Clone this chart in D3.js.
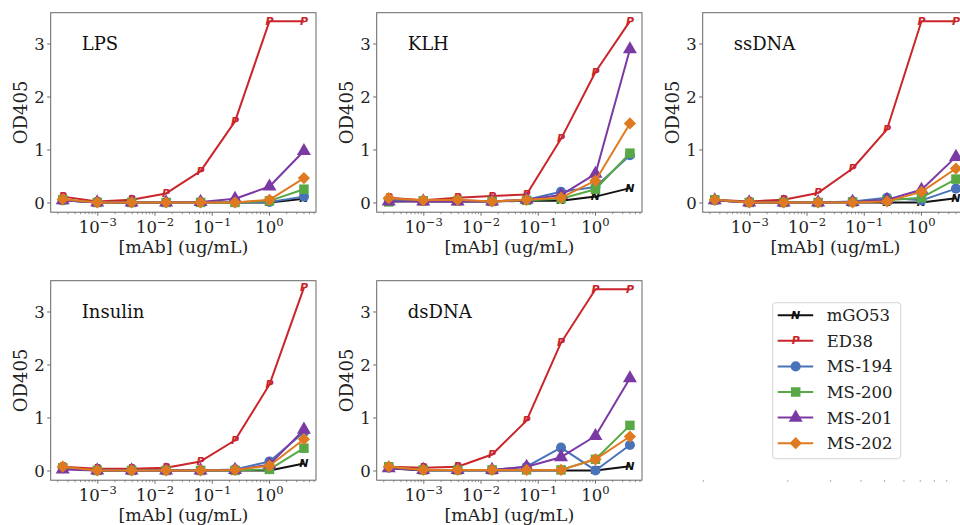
<!DOCTYPE html>
<html>
<head>
<meta charset="utf-8">
<script src="https://cdn.jsdelivr.net/npm/d3@7"></script>
<style>
  body { margin: 0; background: #fff; }
  svg { display: block; font-family: "DejaVu Serif", serif; }
</style>
</head>
<body>
<svg id="chart" width="960" height="525"></svg>
<script>
// 4-fold dilution series of antibody (ug/mL)
const concentrations = [0.000244, 0.000977, 0.0039, 0.0156, 0.0625, 0.25, 1, 4];
const antigens = ["LPS", "KLH", "ssDNA", "Insulin", "dsDNA"];
const seriesNames = ["mGO53", "ED38", "MS-194", "MS-200", "MS-201", "MS-202"];

// OD405 per antigen, rows in seriesNames order
const lpsValues = [
  [0.05, 0.01, 0.01, 0.01, 0.01, 0.01, 0.01, 0.08],
  [0.12, 0.03, 0.06, 0.18, 0.60, 1.54, 3.43, 3.43],
  [0.05, 0.01, 0.01, 0.01, 0.01, 0.01, 0.02, 0.12],
  [0.06, 0.01, 0.01, 0.01, 0.01, 0.01, 0.04, 0.26],
  [0.05, 0.01, 0.01, 0.01, 0.02, 0.08, 0.31, 0.98],
  [0.07, 0.01, 0.01, 0.01, 0.01, 0.01, 0.06, 0.47]
];
const klhValues = [
  [0.04, 0.03, 0.03, 0.03, 0.04, 0.04, 0.12, 0.28],
  [0.10, 0.05, 0.10, 0.13, 0.16, 1.21, 2.47, 3.43],
  [0.06, 0.04, 0.05, 0.03, 0.06, 0.21, 0.30, 0.90],
  [0.02, 0.04, 0.04, 0.03, 0.05, 0.08, 0.26, 0.94],
  [0.03, 0.03, 0.03, 0.03, 0.06, 0.15, 0.55, 2.90],
  [0.09, 0.05, 0.06, 0.03, 0.06, 0.10, 0.42, 1.50]
];
const ssdnaValues = [
  [0.05, 0.01, 0.01, 0.01, 0.01, 0.01, 0.01, 0.09],
  [0.06, 0.03, 0.06, 0.19, 0.65, 1.39, 3.43, 3.43],
  [0.05, 0.01, 0.01, 0.01, 0.03, 0.10, 0.05, 0.27],
  [0.06, 0.01, 0.01, 0.01, 0.02, 0.05, 0.10, 0.45],
  [0.05, 0.01, 0.01, 0.01, 0.02, 0.06, 0.25, 0.87],
  [0.06, 0.01, 0.01, 0.01, 0.01, 0.03, 0.21, 0.65]
];
const insulinValues = [
  [0.05, 0.01, 0.01, 0.01, 0.01, 0.01, 0.01, 0.14],
  [0.08, 0.04, 0.04, 0.06, 0.18, 0.58, 1.63, 3.46],
  [0.05, 0.01, 0.01, 0.01, 0.01, 0.03, 0.18, 0.73],
  [0.06, 0.01, 0.01, 0.01, 0.01, 0.01, 0.03, 0.43],
  [0.03, 0.01, 0.01, 0.01, 0.01, 0.02, 0.12, 0.78],
  [0.08, 0.01, 0.01, 0.01, 0.01, 0.02, 0.10, 0.60]
];
const dsdnaValues = [
  [0.05, 0.01, 0.01, 0.01, 0.01, 0.01, 0.01, 0.09],
  [0.08, 0.06, 0.08, 0.31, 0.95, 2.42, 3.43, 3.43],
  [0.06, 0.02, 0.02, 0.02, 0.08, 0.44, 0.01, 0.49],
  [0.08, 0.02, 0.02, 0.02, 0.02, 0.02, 0.22, 0.86],
  [0.05, 0.02, 0.02, 0.02, 0.08, 0.26, 0.66, 1.75],
  [0.08, 0.02, 0.02, 0.02, 0.02, 0.02, 0.22, 0.65]
];
const panelValues = [lpsValues, klhValues, ssdnaValues, insulinValues, dsdnaValues];

const yTicks = [0, 1, 2, 3];
const xTicks = [1e-3, 1e-2, 1e-1, 1e0];

const colors = ["#111111", "#c9252b", "#4a72b8", "#58a845", "#7b3aa3", "#e07a20"];
const markers = ["N", "P", "circle", "square", "triangle", "diamond"];

const svg = d3.select("#chart");
const colLeft = [50.7, 376.7, 702.7];
const rowTop = [12.7, 280.7];
const pw = 265.3, ph = 199.5;

const x = d3.scaleLog().domain([Math.pow(10, -3.823), Math.pow(10, 0.813)]).range([0, pw]);
const y = d3.scaleLinear().domain([-0.174, 3.59]).range([ph, 0]);

// draw one marker into a group at (0,0); N and P are letter glyph markers
function drawMarker(g, type, color) {
  if (type === "N" || type === "P") {
    g.append("text")
      .attr("text-anchor", "middle")
      .attr("dominant-baseline", "central")
      .style("font-family", "DejaVu Sans")
      .style("font-style", "italic")
      .style("font-weight", "bold")
      .style("font-size", "11px")
      .attr("fill", color)
      .text(type);
    return;
  }
  let sym, size, rot = 0;
  if (type === "circle") { sym = d3.symbolCircle; size = 80; }
  if (type === "square") { sym = d3.symbolSquare; size = 90; }
  if (type === "triangle") { sym = d3.symbolTriangle; size = 85; }
  if (type === "diamond") { sym = d3.symbolSquare; size = 75; rot = 45; }
  g.append("path")
    .attr("d", d3.symbol().type(sym).size(size)())
    .attr("transform", rot ? `rotate(${rot})` : null)
    .attr("fill", color);
}

antigens.forEach((name, idx) => {
  const left = colLeft[idx % 3], top = rowTop[Math.floor(idx / 3)];
  const g = svg.append("g").attr("transform", `translate(${left},${top})`);

  // minor + major x ticks
  const minor = [];
  for (let e = -4; e <= 0; e++) {
    for (let k = 2; k <= 9; k++) {
      const v = k * Math.pow(10, e);
      if (v >= x.domain()[0] && v <= x.domain()[1]) minor.push(v);
    }
  }
  g.selectAll(".minor").data(minor).enter().append("line")
    .attr("x1", d => x(d)).attr("x2", d => x(d))
    .attr("y1", ph).attr("y2", ph + 2)
    .attr("stroke", "#444").attr("stroke-width", 0.6);
  g.selectAll(".major").data(xTicks).enter().append("line")
    .attr("x1", d => x(d)).attr("x2", d => x(d))
    .attr("y1", ph).attr("y2", ph + 3.5)
    .attr("stroke", "#444").attr("stroke-width", 0.8);

  const xl = g.selectAll(".xl").data(xTicks).enter().append("text")
    .attr("x", d => x(d))
    .attr("y", ph + 20.5)
    .attr("text-anchor", "middle")
    .style("font-size", "16.5px")
    .attr("fill", "#222");
  xl.append("tspan").text("10");
  xl.append("tspan")
    .attr("dy", -7)
    .style("font-size", "11.5px")
    .text(d => { const e = Math.round(Math.log10(d)); return e < 0 ? "\u2212" + (-e) : String(e); });

  // y ticks
  g.selectAll(".ytick").data(yTicks).enter().append("line")
    .attr("x1", -3.5).attr("x2", 0)
    .attr("y1", d => y(d)).attr("y2", d => y(d))
    .attr("stroke", "#444").attr("stroke-width", 0.8);
  g.selectAll(".yl").data(yTicks).enter().append("text")
    .attr("x", -6)
    .attr("y", d => y(d))
    .attr("dy", "0.36em")
    .attr("text-anchor", "end")
    .style("font-size", "16.5px")
    .attr("fill", "#222")
    .text(d => d);

  // axis labels
  g.append("text")
    .attr("transform", `translate(-30,${ph / 2}) rotate(-90)`)
    .attr("text-anchor", "middle")
    .attr("dy", "0.36em")
    .style("font-size", "18px")
    .attr("fill", "#222")
    .text("OD405");
  g.append("text")
    .attr("x", pw / 2)
    .attr("y", ph + 40.5)
    .attr("text-anchor", "middle")
    .style("font-size", "17.5px")
    .attr("fill", "#222")
    .text("[mAb] (ug/mL)");

  // series
  const line = d3.line().x(d => x(d[0])).y(d => y(d[1]));
  panelValues[idx].forEach((vals, s) => {
    const pts = concentrations.map((c, i) => [c, vals[i]]);
    const sg = g.append("g");
    sg.append("path")
      .datum(pts)
      .attr("d", line)
      .attr("fill", "none")
      .attr("stroke", colors[s])
      .attr("stroke-width", 2)
      .attr("stroke-linejoin", "round");
    pts.forEach(p => {
      const mg = sg.append("g").attr("transform", `translate(${x(p[0])},${y(p[1])})`);
      drawMarker(mg, markers[s], colors[s]);
    });
  });

  // frame
  g.append("rect")
    .attr("width", pw).attr("height", ph)
    .attr("fill", "none")
    .attr("stroke", "#666").attr("stroke-width", 1);

  // panel title
  g.append("text")
    .attr("x", 31)
    .attr("y", 37.5)
    .style("font-size", "18px")
    .attr("fill", "#111")
    .text(name);
});

// leftover minor ticks of the empty sixth axes
const xEmpty = d3.scaleLog().domain([0.894, 11.0]).range([702.7, 968]);
const emptyMinor = [0.9, 2, 3, 4, 5, 6, 7, 8, 9];
svg.selectAll(".emptyTick").data(emptyMinor).enter().append("line")
  .attr("x1", d => xEmpty(d)).attr("x2", d => xEmpty(d))
  .attr("y1", 480).attr("y2", 482)
  .attr("stroke", "#999").attr("stroke-width", 0.8);

// legend
const legend = svg.append("g").attr("transform", "translate(772.7,302.7)");
legend.append("rect")
  .attr("width", 128).attr("height", 156)
  .attr("rx", 3)
  .attr("fill", "#fff")
  .attr("stroke", "#d4d4d4")
  .attr("stroke-width", 1);
seriesNames.forEach((n, s) => {
  const ly = 12.5 + s * 25.6;
  legend.append("line")
    .attr("x1", 5).attr("x2", 40.5)
    .attr("y1", ly).attr("y2", ly)
    .attr("stroke", colors[s]).attr("stroke-width", 2);
  const mg = legend.append("g").attr("transform", `translate(23,${ly})`);
  drawMarker(mg, markers[s], colors[s]);
  legend.append("text")
    .attr("x", 54)
    .attr("y", ly)
    .attr("dy", "0.36em")
    .style("font-size", "16.5px")
    .attr("fill", "#222")
    .text(n);
});
</script>
</body>
</html>
